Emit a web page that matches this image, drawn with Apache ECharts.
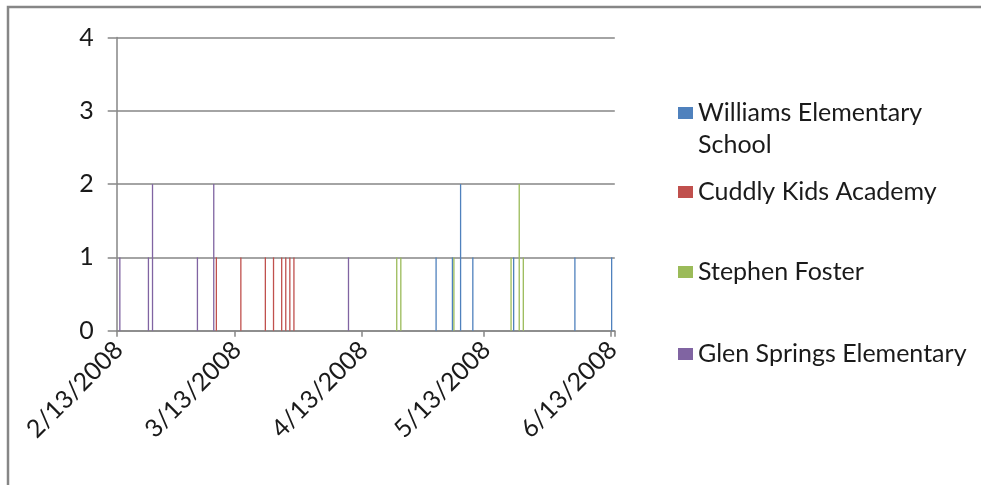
<!DOCTYPE html>
<html>
<head>
<meta charset="utf-8">
<script src="https://cdn.jsdelivr.net/npm/echarts@6/dist/echarts.min.js"></script>
<style>
html,body{margin:0;padding:0;background:#fff;}
#chart{width:981px;height:485px;}
</style>
</head>
<body>
<div id="chart"></div>
<script>
// ---- data ----
const startDate = '2/13/2008';
const endDate = '6/13/2008';
const tickLabels = ['2/13/2008', '3/13/2008', '4/13/2008', '5/13/2008', '6/13/2008'];
const yTicks = [0, 1, 2, 3, 4];

const seriesNames = ['Williams Elementary School', 'Cuddly Kids Academy', 'Stephen Foster', 'Glen Springs Elementary'];

const williamsDates = ['5/1/2008', '5/5/2008', '5/7/2008', '5/10/2008', '5/20/2008', '6/4/2008', '6/13/2008'];
const williamsValues = [1, 1, 2, 1, 1, 1, 1];

const cuddlyDates = ['3/8/2008', '3/14/2008', '3/20/2008', '3/22/2008', '3/24/2008', '3/25/2008', '3/26/2008', '3/27/2008'];
const cuddlyValues = [1, 1, 1, 1, 1, 1, 1, 1];

const stephenDates = ['4/21/2008', '4/22/2008', '5/5/2008', '5/19/2008', '5/21/2008', '5/22/2008'];
const stephenValues = [1, 1, 1, 1, 2, 1];

const glenDates = ['2/13/2008', '2/20/2008', '2/21/2008', '3/3/2008', '3/7/2008', '4/9/2008'];
const glenValues = [1, 1, 2, 1, 2, 1];

const colors = ['#4F81BD', '#C0504D', '#9BBB59', '#8064A2'];

// ---- build the daily category axis ----
function parseMDY(s) { const p = s.split('/').map(Number); return Date.UTC(p[2], p[0] - 1, p[1]); }
function fmt(t) { const d = new Date(t); return (d.getUTCMonth() + 1) + '/' + d.getUTCDate() + '/' + d.getUTCFullYear(); }
const categories = [];
for (let t = parseMDY(startDate); t <= parseMDY(endDate); t += 86400000) categories.push(fmt(t));

function buildData(dates, values) {
  const arr = categories.map(() => null);
  dates.forEach((d, i) => { arr[categories.indexOf(d)] = values[i]; });
  return arr;
}
const allData = [
  buildData(williamsDates, williamsValues),
  buildData(cuddlyDates, cuddlyValues),
  buildData(stephenDates, stephenValues),
  buildData(glenDates, glenValues)
];

const FONT = 'Lato';
const FS = 25;
const legendTops = [65, 176, 256, 338];

const chart = echarts.init(document.getElementById('chart'), null, {renderer: 'canvas'});
chart.setOption({
  animation: false,
  backgroundColor: '#ffffff',
  color: colors,
  textStyle: {fontFamily: FONT},
  grid: {left: 116.7, right: 366.2, top: 37.5, bottom: 154.3, containLabel: false},
  legend: seriesNames.map((n, i) => ({
    data: [n],
    orient: 'vertical',
    left: 678,
    top: legendTops[i],
    padding: 0,
    itemWidth: 15,
    itemHeight: 12,
    itemGap: 0,
    icon: 'rect',
    selectedMode: false,
    formatter: i === 0 ? '\nWilliams Elementary\nSchool' : '{name}',
    textStyle: {fontFamily: FONT, fontSize: FS, color: '#1a1a1a', lineHeight: 32}
  })),
  xAxis: {
    type: 'category',
    data: categories,
    boundaryGap: true,
    axisLine: {show: true, lineStyle: {color: '#868686', width: 1.5}},
    axisTick: {show: true, interval: (idx, val) => tickLabels.includes(val), length: 6, lineStyle: {color: '#868686', width: 1.5}},
    axisLabel: {
      interval: (idx, val) => tickLabels.includes(val),
      rotate: 45, margin: 15,
      fontFamily: FONT, fontSize: FS, color: '#1a1a1a',
      padding: [0, 0, 0, 0]
    },
    splitLine: {show: false}
  },
  yAxis: {
    type: 'value',
    min: yTicks[0], max: yTicks[yTicks.length - 1], interval: 1,
    axisLine: {show: true, lineStyle: {color: '#868686', width: 1.5}},
    axisTick: {show: true, length: 9, lineStyle: {color: '#868686', width: 1.5}},
    axisLabel: {margin: 23, fontFamily: FONT, fontSize: FS, color: '#1a1a1a'},
    splitLine: {show: true, lineStyle: {color: '#868686', width: 1.5}}
  },
  series: seriesNames.map((n, i) => ({
    name: n,
    type: 'bar',
    data: allData[i],
    barWidth: 1.3,
    barGap: '-43%',
    itemStyle: {color: colors[i]},
    emphasis: {disabled: true}
  })),
  graphic: [{
    type: 'rect',
    shape: {x: 8, y: 7, width: 1000, height: 500},
    style: {fill: null, stroke: '#868686', lineWidth: 2.5},
    silent: true
  }]
});
</script>
</body>
</html>
